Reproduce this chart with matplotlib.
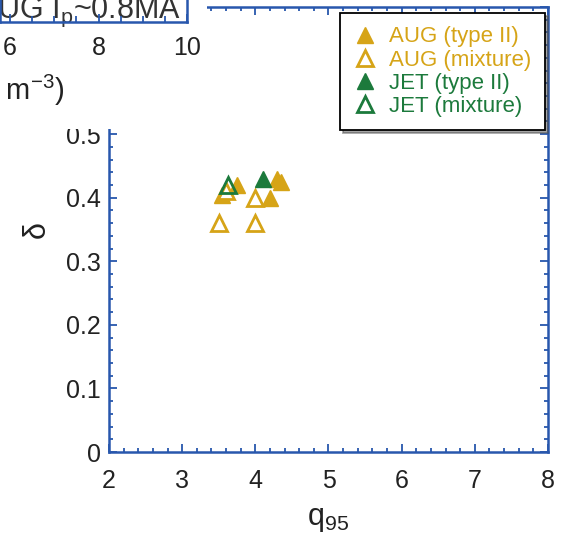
import matplotlib
matplotlib.use("Agg")
import matplotlib.pyplot as plt
from matplotlib.patches import Rectangle
from matplotlib.ticker import MultipleLocator

plt.rcParams['font.family'] = ['Liberation Sans', 'DejaVu Sans']
plt.rcParams['mathtext.fontset'] = 'custom'
plt.rcParams['mathtext.rm'] = 'Liberation Sans'
plt.rcParams['mathtext.it'] = 'Liberation Sans:italic'

# q95 / triangularity points per machine and ELM regime
aug_type2_q = [3.55, 3.75, 4.2, 4.3, 4.35]
aug_type2_d = [0.405, 0.42, 0.40, 0.43, 0.425]
aug_mix_q = [3.5, 4.0, 4.0, 3.6]
aug_mix_d = [0.36, 0.36, 0.40, 0.41]
jet_type2_q = [4.1]
jet_type2_d = [0.43]
jet_mix_q = [3.62]
jet_mix_d = [0.42]

gold = '#D6A417'
green = '#1C7A3C'
blue = '#2857AD'
ink = '#222222'

fig = plt.figure(figsize=(5.66, 5.35), dpi=100)
ax = fig.add_axes([109/566, 1 - 452/535, 439/566, 445/535])

ms = 11
ax.plot(aug_type2_q, aug_type2_d, '^', color=gold, ms=ms, ls='none', label='AUG (type II)')
ax.plot(aug_mix_q, aug_mix_d, '^', mfc='white', mec=gold, mew=2, ms=ms, ls='none', label='AUG (mixture)')
ax.plot(jet_type2_q, jet_type2_d, '^', color=green, ms=ms, ls='none', label='JET (type II)')
ax.plot(jet_mix_q, jet_mix_d, '^', mfc='none', mec=green, mew=2, ms=ms, ls='none', label='JET (mixture)')

ax.set_xlim(2, 8)
ax.set_ylim(0, 0.7)
ax.xaxis.set_major_locator(MultipleLocator(1))
ax.xaxis.set_minor_locator(MultipleLocator(0.2))
ax.yaxis.set_minor_locator(MultipleLocator(0.02))
ax.set_yticks([0, 0.1, 0.2, 0.3, 0.4, 0.5, 0.6, 0.7])
ax.set_yticklabels(['0', '0.1', '0.2', '0.3', '0.4', '0.5', '', ''])
ax.tick_params(which='both', direction='in', top=True, right=True, color=blue,
               labelsize=18, labelcolor=ink, width=1.3)
ax.tick_params(which='major', length=6)
ax.tick_params(which='minor', length=3)
ax.tick_params(axis='x', which='major', pad=12)
ax.tick_params(axis='y', which='major', pad=6)
for s in ax.spines.values():
    s.set_color(blue)
    s.set_linewidth(1.8)
ax.set_xlabel('q$_{95}$', fontsize=22, labelpad=8, color=ink)
ax.set_ylabel('δ', fontsize=22, labelpad=10, color=ink)

leg = ax.legend(loc='upper right', bbox_to_anchor=(0.993, 0.9865), borderaxespad=0,
                fontsize=16, frameon=True, fancybox=False, shadow=True,
                edgecolor='black', handletextpad=0.6, labelspacing=0.1,
                borderpad=0.6, handlelength=1.0, framealpha=1)
leg.get_frame().set_linewidth(1.3)
for t, c in zip(leg.get_texts(), [gold, gold, green, green]):
    t.set_color(c)

# neighbouring panel above-left
fig.patches.append(Rectangle((0, 1 - 129/535), 207/566, 129/535,
                             transform=fig.transFigure, facecolor='white',
                             edgecolor='none', zorder=1))
ax2 = fig.add_axes([0, 1 - 22/535, 187/566, 0.2], zorder=2)
ax2.set_facecolor('none')
ax2.set_xlim(6 - 10/44.25, 10)
ax2.set_ylim(0, 1)
ax2.xaxis.set_major_locator(MultipleLocator(2))
ax2.xaxis.set_minor_locator(MultipleLocator(0.5))
ax2.set_yticks([])
ax2.tick_params(which='both', direction='in', color=blue, labelsize=18,
                labelcolor=ink, width=1.3)
ax2.tick_params(which='major', length=6, pad=10)
ax2.tick_params(which='minor', length=4)
for s in ax2.spines.values():
    s.set_color(blue)
    s.set_linewidth(1.8)
ax2.text(181/566, 1 - 18/535, 'AUG I$_\\mathrm{p}$~0.8MA', transform=fig.transFigure,
         ha='right', va='baseline', fontsize=22, color='#333333', zorder=1, clip_on=False)
ax2.text(64/566, 1 - 100/535, '$\\bar{n}_\\mathrm{e}$ (10$^{19}$ m$^{-3}$)',
         transform=fig.transFigure, ha='right', va='baseline', fontsize=21,
         color=ink, clip_on=False)

fig.savefig('out.png', dpi=100)
